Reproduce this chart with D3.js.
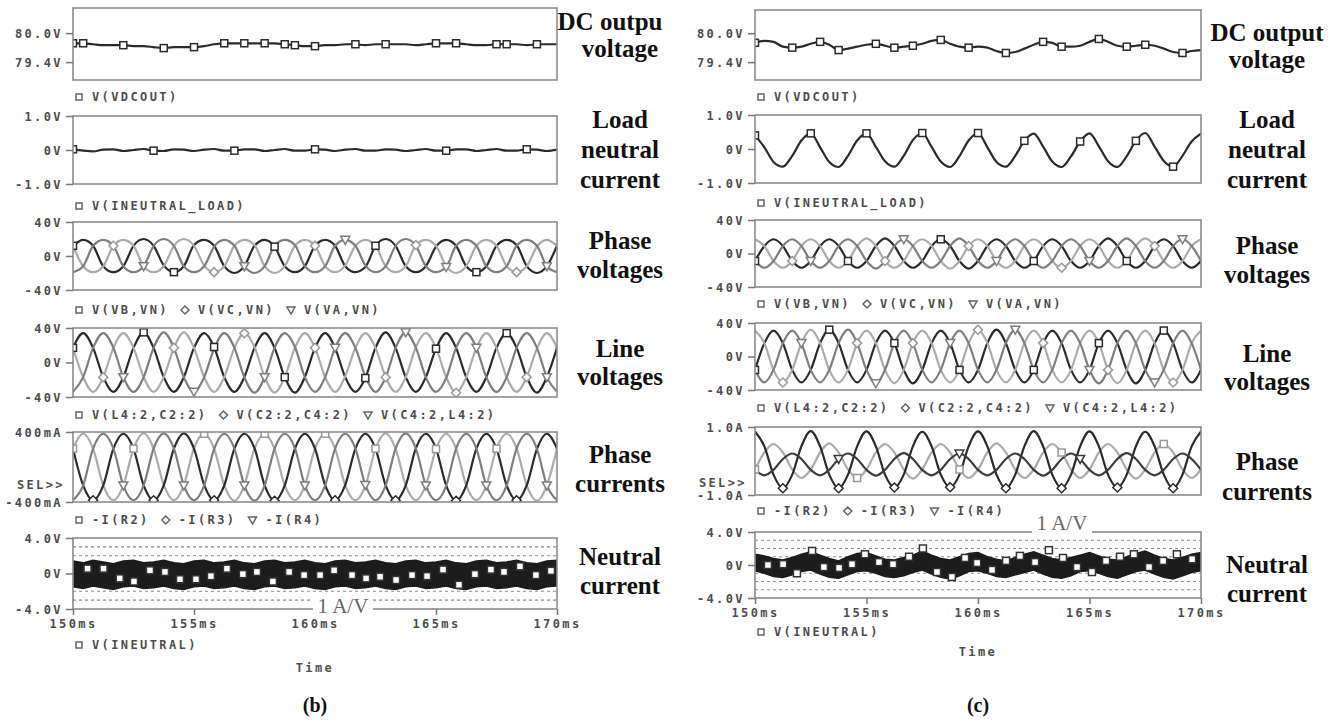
<!DOCTYPE html>
<html>
<head>
<meta charset="utf-8">
<script src="https://cdn.jsdelivr.net/npm/d3@7"></script>
<style>
body { margin: 0; background: #fff; }
svg { display: block; }
.mono { font-family: "DejaVu Sans Mono", monospace; font-weight: bold; font-size: 12px; fill: #4d4d4d; letter-spacing: 2.4px; }
</style>
</head>
<body>
<svg id="chart" width="1339" height="722"></svg>
<script>
// sample instants (ms), shared by every trace
const T = [150.00,150.42,150.83,151.25,151.67,152.08,152.50,152.92,153.33,153.75,154.17,154.58,
  155.00,155.42,155.83,156.25,156.67,157.08,157.50,157.92,158.33,158.75,159.17,159.58,
  160.00,160.42,160.83,161.25,161.67,162.08,162.50,162.92,163.33,163.75,164.17,164.58,
  165.00,165.42,165.83,166.25,166.67,167.08,167.50,167.92,168.33,168.75,169.17,169.58,170.00];
const timeTicks = [150, 155, 160, 165, 170];

// ---------- (b) ----------
const dcB = [79.79,79.79,79.77,79.75,79.75,79.75, 79.73,79.73,79.71,79.69,79.71,79.71, 79.71,79.73,79.77,79.79,79.79,79.79,
  79.79,79.79,79.79,79.77,79.75,79.73, 79.73,79.75,79.75,79.77,79.77,79.75, 79.77,79.77,79.77,79.77,79.75,79.77,
  79.79,79.79,79.79,79.77,79.75,79.75, 79.77,79.77,79.77,79.75,79.77,79.77, 79.77];
const loadB = [0.02,-0.02,-0.04,0.01,0.02,-0.03, 0.00,0.03,-0.02,-0.03,0.02,0.01, -0.03,0.01,0.03,-0.02,-0.02,0.02,
  0.02,-0.03,0.00,0.03,-0.02,-0.02, 0.02,0.01,-0.03,0.01,0.03,-0.02, -0.02,0.02,0.01,-0.03,0.00,0.03,
  -0.02,-0.02,0.02,0.02,-0.03,0.00, 0.03,-0.02,-0.02,0.02,0.01,-0.03, 0.01];
const vbB = [12,19,12,-12,-19,-12, 12,20,12,-11,-19,-12, 13,19,12,-12,-20,-12, 12,19,11,-12,-19,-12,
  12,19,12,-12,-19,-13, 12,20,12,-12,-19,-12, 11,19,12,-12,-19,-12, 12,19,13,-12,-20,-12, 12];
const vcB = [12,-12,-19,-12,12,19, 12,-12,-19,-12,12,20, 12,-11,-19,-12,12,19, 13,-12,-20,-12,12,19,
  12,-12,-19,-11,12,19, 12,-12,-19,-12,13,19, 12,-12,-20,-12,12,19, 12,-12,-19,-12,11,19, 12];
const vaB = [-19,-12,12,19,12,-12, -19,-12,12,20,12,-12, -19,-12,11,19,12,-12, -20,-12,12,19,13,-12,
  -19,-12,12,19,12,-11, -19,-12,12,20,12,-12, -19,-13,12,19,12,-12, -19,-12,12,19,12,-12, -19];
const l42B = [17,34,17,-17,-34,-17, 17,35,17,-17,-34,-17, 17,34,18,-17,-34,-17, 17,34,17,-17,-35,-17,
  17,34,17,-17,-34,-18, 17,35,17,-17,-34,-17, 16,34,17,-17,-34,-17, 17,34,17,-17,-35,-17, 17];
const c24B = [17,-17,-34,-17,17,34, 17,-17,-34,-17,17,35, 17,-17,-34,-17,17,34, 18,-17,-35,-17,17,34,
  17,-17,-34,-16,17,34, 17,-17,-34,-17,18,34, 17,-17,-35,-17,17,34, 17,-17,-34,-17,16,34, 17];
const c4lB = [-34,-17,17,34,17,-17, -34,-17,17,35,17,-17, -34,-17,16,34,17,-17, -35,-17,17,34,18,-17,
  -34,-17,17,34,17,-16, -34,-17,17,35,17,-17, -34,-18,17,34,17,-17, -34,-17,17,34,17,-17, -34];
const ir2B = [210,380,210,-210,-380,-210, 210,385,210,-205,-380,-210, 215,380,210,-210,-385,-210, 210,380,205,-210,-380,-210,
  210,380,210,-210,-380,-215, 210,385,210,-210,-380,-210, 205,380,210,-210,-380,-210, 210,380,215,-210,-385,-210, 210];
const ir3B = [210,-210,-380,-210,210,380, 210,-210,-380,-210,210,385, 210,-205,-380,-210,210,380, 215,-210,-385,-210,210,380,
  210,-210,-380,-205,210,380, 210,-210,-380,-210,215,380, 210,-210,-385,-210,210,380, 210,-210,-380,-210,205,380, 210];
const ir4B = [-380,-210,210,380,210,-210, -380,-210,210,385,210,-210, -380,-210,205,380,210,-210, -385,-210,210,380,215,-210,
  -380,-210,210,380,210,-205, -380,-210,210,385,210,-210, -380,-215,210,380,210,-210, -380,-210,210,380,210,-210, -380];
const nHiB = [1.4,1.2,1.5,1.3,1.1,1.4, 1.5,1.2,1.3,1.5,1.2,1.1, 1.4,1.5,1.2,1.3,1.5,1.2, 1.1,1.4,1.5,1.2,1.3,1.5,
  1.2,1.1,1.4,1.5,1.2,1.3, 1.5,1.2,1.1,1.4,1.5,1.2, 1.3,1.5,1.2,1.1,1.4,1.5, 1.2,1.3,1.5,1.2,1.1,1.4, 1.5];
const nLoB = [-1.5,-1.7,-1.4,-1.6,-1.8,-1.5, -1.4,-1.7,-1.6,-1.4,-1.7,-1.8, -1.5,-1.4,-1.7,-1.6,-1.4,-1.7,
  -1.8,-1.5,-1.4,-1.7,-1.6,-1.4, -1.7,-1.8,-1.5,-1.4,-1.7,-1.6, -1.4,-1.7,-1.8,-1.5,-1.4,-1.7,
  -1.6,-1.4,-1.7,-1.8,-1.5,-1.4, -1.7,-1.6,-1.4,-1.7,-1.8,-1.5, -1.4];
const nMarkTB = [150.60,151.26,151.93,152.52,153.18,153.80,154.42,155.08,155.70,156.36,157.02,157.60,158.26,158.93,159.55,
  160.21,160.79,161.53,162.11,162.69,163.35,164.01,164.63,165.29,165.95,166.61,167.27,167.81,168.47,169.13,169.75];
const nMarkVB = [0.55,0.55,-0.55,-0.9,0.36,0.18,-0.65,-0.65,-0.3,0.55,-0.07,0.18,-0.9,0.18,-0.18,
  -0.18,0.36,-0.18,-0.55,-0.36,-0.73,-0.18,-0.3,0.44,-1.27,-0.07,0.44,0.18,0.8,-0.18,0.3];

// ---------- (c) ----------
const dcC = [79.80,79.84,79.82,79.72,79.70,79.72, 79.78,79.82,79.76,79.65,79.68,79.72, 79.76,79.78,79.74,79.70,79.72,79.74,
  79.78,79.84,79.86,79.78,79.72,79.70, 79.72,79.70,79.63,79.59,79.61,79.68, 79.76,79.82,79.80,79.72,79.72,79.74,
  79.82,79.88,79.82,79.74,79.72,79.74, 79.76,79.74,79.68,79.61,79.59,79.63, 79.65];
const loadC = [0.40,0.05,-0.38,-0.52,-0.20,0.25, 0.46,0.05,-0.38,-0.53,-0.20,0.25, 0.46,0.06,-0.36,-0.52,-0.20,0.26,
  0.47,0.06,-0.37,-0.53,-0.21,0.25, 0.47,0.05,-0.38,-0.52,-0.20,0.24, 0.45,0.07,-0.37,-0.53,-0.22,0.22,
  0.46,0.08,-0.36,-0.53,-0.21,0.24, 0.47,0.07,-0.35,-0.52,-0.20,0.22, 0.45];
const vbC = [-9,9,17,9,-9,-17, -9,9,17,9,-9,-17, -9,9,18,9,-9,-17, -9,9,17,9,-9,-18,
  -9,9,17,9,-9,-17, -9,9,17,9,-9,-17, -9,9,18,9,-9,-17, -9,9,17,9,-9,-17, -9];
const vcC = [17,9,-9,-17,-9,9, 17,9,-9,-17,-9,9, 18,9,-9,-17,-9,9, 17,9,-9,-18,-9,9,
  17,9,-9,-17,-9,9, 17,9,-9,-17,-9,9, 17,9,-9,-17,-9,9, 18,9,-9,-17,-9,9, 17];
const vaC = [-9,-17,-9,9,17,9, -9,-17,-9,9,17,9, -9,-18,-9,9,17,9, -9,-17,-9,9,18,9,
  -9,-17,-9,9,17,9, -9,-17,-9,9,17,9, -9,-17,-9,9,18,9, -9,-17,-9,9,17,9, -9];
const l42C = [-16,16,31,16,-16,-31, -16,16,32,16,-16,-31, -16,16,31,16,-16,-32, -16,16,31,16,-16,-31,
  -16,16,32,16,-16,-31, -16,16,31,16,-16,-31, -16,16,31,16,-16,-32, -16,16,31,16,-16,-31, -16];
const c24C = [31,16,-16,-31,-16,16, 32,16,-16,-31,-16,16, 31,16,-16,-32,-16,16, 31,16,-16,-31,-16,16,
  32,16,-16,-31,-16,16, 31,16,-16,-31,-16,16, 31,16,-16,-32,-16,16, 31,16,-16,-31,-16,16, 31];
const c4lC = [-16,-31,-16,16,31,16, -16,-31,-16,16,32,16, -16,-32,-16,16,31,16, -16,-31,-16,16,31,16,
  -16,-31,-16,16,32,16, -16,-31,-16,16,31,16, -16,-32,-16,16,31,16, -16,-31,-16,16,31,16, -16];
const ir2C = [-0.25,0.25,0.50,0.25,-0.25,-0.50, -0.25,0.25,0.52,0.25,-0.25,-0.50, -0.25,0.25,0.50,0.25,-0.25,-0.52,
  -0.25,0.25,0.50,0.25,-0.25,-0.50, -0.25,0.25,0.52,0.25,-0.25,-0.50, -0.25,0.25,0.50,0.25,-0.25,-0.50,
  -0.25,0.25,0.50,0.25,-0.25,-0.52, -0.25,0.25,0.50,0.25,-0.25,-0.50, -0.25];
const ir3C = [0.87,0.43,-0.40,-0.80,-0.40,0.43, 0.88,0.43,-0.40,-0.80,-0.40,0.43, 0.87,0.43,-0.40,-0.78,-0.40,0.43,
  0.86,0.43,-0.40,-0.77,-0.40,0.43, 0.87,0.43,-0.40,-0.80,-0.40,0.43, 0.88,0.43,-0.40,-0.80,-0.40,0.43,
  0.87,0.43,-0.40,-0.78,-0.40,0.43, 0.86,0.43,-0.40,-0.80,-0.40,0.43, 0.87];
const ir4C = [-0.26,-0.42,-0.26,0.06,0.22,0.06, -0.26,-0.42,-0.26,0.06,0.22,0.06, -0.26,-0.43,-0.26,0.06,0.23,0.06,
  -0.26,-0.42,-0.26,0.06,0.22,0.06, -0.26,-0.42,-0.26,0.06,0.22,0.06, -0.26,-0.43,-0.26,0.06,0.22,0.06,
  -0.26,-0.42,-0.26,0.06,0.23,0.06, -0.26,-0.42,-0.26,0.06,0.22,0.06, -0.26];
const nHiC = [1.3,1.1,0.8,0.6,0.9,1.3, 1.6,1.2,0.8,0.5,1.0,1.4, 1.5,1.1,0.7,0.6,0.9,1.2, 1.7,1.2,0.8,0.6,1.0,1.4,
  1.5,1.0,0.7,0.5,0.9,1.3, 1.6,1.2,0.8,0.6,0.9,1.2, 1.5,1.1,0.7,0.6,1.0,1.4, 1.7,1.2,0.8,0.6,0.9,1.3, 1.5];
const nLoC = [-0.7,-1.0,-1.4,-1.5,-1.2,-0.8, -0.6,-1.1,-1.5,-1.6,-1.2,-0.8, -0.7,-1.0,-1.4,-1.5,-1.3,-0.9,
  -0.6,-1.1,-1.5,-1.7,-1.3,-0.8, -0.7,-1.0,-1.4,-1.5,-1.2,-0.9, -0.6,-1.1,-1.5,-1.6,-1.3,-0.8,
  -0.7,-1.0,-1.4,-1.6,-1.2,-0.8, -0.6,-1.1,-1.5,-1.7,-1.3,-0.9, -0.7];
const nMarkTC = [150.58,151.26,151.88,152.56,153.09,153.77,154.35,154.93,155.56,156.19,156.91,157.53,158.16,158.83,159.42,
  159.96,160.63,161.26,161.88,162.56,163.18,163.81,164.44,165.11,165.74,166.37,166.99,167.67,168.30,168.92,169.60];
const nMarkVC = [0.0,0.1,-1.0,1.7,-0.25,-0.35,0.1,1.3,0.35,0.1,1.0,2.0,-0.85,-1.45,0.85,
  0.25,-0.6,0.5,1.1,0.35,1.8,0.85,-0.25,-0.85,0.5,1.0,1.3,-0.25,0.5,1.3,0.7];

// axis ranges and tick labels
const domB = [[79.03, 80.52], [-1, 1], [-40, 40], [-40, 40], [-400, 400], [-4, 4]];
const domC = [[79.03, 80.48], [-1, 1], [-40, 40], [-40, 40], [-1, 1], [-4, 4]];
const tickValB = [[80.0, 79.4], [1, 0, -1], [40, 0, -40], [40, 0, -40], [400, -400], [4, 0, -4]];
const tickLabB = [['80.0V', '79.4V'], ['1.0V', '0V', '-1.0V'], ['40V', '0V', '-40V'], ['40V', '0V', '-40V'], ['400mA', '-400mA'], ['4.0V', '0V', '-4.0V']];
const tickValC = [[80.0, 79.4], [1, 0, -1], [40, 0, -40], [40, 0, -40], [1, -1], [4, 0, -4]];
const tickLabC = [['80.0V', '79.4V'], ['1.0V', '0V', '-1.0V'], ['40V', '0V', '-40V'], ['40V', '0V', '-40V'], ['1.0A', '-1.0A'], ['4.0V', '0V', '-4.0V']];
const neutralGrid = [3, 2, 1, -1, -2, -3];

// legends and titles
const legends = [['V(VDCOUT)'], ['V(INEUTRAL_LOAD)'], ['V(VB,VN)', 'V(VC,VN)', 'V(VA,VN)'],
  ['V(L4:2,C2:2)', 'V(C2:2,C4:2)', 'V(C4:2,L4:2)'], ['-I(R2)', '-I(R3)', '-I(R4)'], ['V(INEUTRAL)']];
const titlesB = [['DC outpu', 'voltage'], ['Load', 'neutral', 'current'], ['Phase', 'voltages'], ['Line', 'voltages'], ['Phase', 'currents'], ['Neutral', 'current']];
const titlesC = [['DC output', 'voltage'], ['Load', 'neutral', 'current'], ['Phase', 'voltages'], ['Line', 'voltages'], ['Phase', 'currents'], ['Neutral', 'current']];

const DARK = '#2b2b2b', MID = '#7e7e7e', LIGHT = '#ababab';
const MARKS = ['sq', 'di', 'tr'];
const SERIF = '"Liberation Serif", "Times New Roman", Times, serif';

const svg = d3.select('#chart');
let clipN = 0;

function marker(g, type, cx, cy, color, r) {
    let el;
    if (type === 'sq') {
        el = g.append('rect').attr('x', cx - r).attr('y', cy - r).attr('width', 2 * r).attr('height', 2 * r);
    } else if (type === 'di') {
        el = g.append('path').attr('d', `M${cx},${cy - r - 1}L${cx + r + 1},${cy}L${cx},${cy + r + 1}L${cx - r - 1},${cy}Z`);
    } else {
        el = g.append('path').attr('d', `M${cx - r - 1},${cy - r}L${cx + r + 1},${cy - r}L${cx},${cy + r + 1}Z`);
    }
    el.attr('fill', '#fff').attr('stroke', color).attr('stroke-width', 1.5);
}

function serifText(g, x, y, s, size, weight, color) {
    return g.append('text').attr('x', x).attr('y', y).attr('text-anchor', 'middle')
        .attr('font-family', SERIF).attr('font-weight', weight).attr('font-size', size)
        .attr('fill', color).text(s);
}

function drawPanel(side, p) {
    const x = side.x;
    const y = d3.scaleLinear().domain(p.domain).range([p.y1, p.y0]);
    const g = svg.append('g');
    const id = 'clip' + (clipN++);
    svg.append('clipPath').attr('id', id).append('rect')
        .attr('x', side.x0).attr('y', p.y0).attr('width', side.x1 - side.x0).attr('height', p.y1 - p.y0);
    const plot = g.append('g').attr('clip-path', `url(#${id})`);

    if (p.grid) {
        p.grid.forEach(v => {
            plot.append('line').attr('x1', side.x0).attr('x2', side.x1).attr('y1', y(v)).attr('y2', y(v))
                .attr('stroke', '#8a8a8a').attr('stroke-width', 1.2).attr('stroke-dasharray', '3,3');
        });
    }

    if (p.band) {
        const rows = T.map((t, i) => ({ t, lo: p.band.lo[i], hi: p.band.hi[i] }));
        plot.append('path').datum(rows)
            .attr('d', d3.area().x(d => x(d.t)).y0(d => y(d.lo)).y1(d => y(d.hi)))
            .attr('fill', '#1c1c1c').attr('stroke', '#1c1c1c').attr('stroke-width', 1.5);
        p.band.marks.t.forEach((t, i) => marker(plot, 'sq', x(t), y(p.band.marks.v[i]), '#333', 3.5));
    }

    const line = d3.line().x((d, i) => x(T[i])).y(d => y(d)).curve(d3.curveMonotoneX);
    (p.series || []).forEach(s => {
        plot.append('path').datum(s.values).attr('d', line)
            .attr('fill', 'none').attr('stroke', s.color).attr('stroke-width', 2.2);
    });
    (p.series || []).forEach((s, k) => {
        s.marks.forEach(i => marker(plot, MARKS[k], x(T[i]), y(s.values[i]), s.color === LIGHT ? '#999' : s.color, 3.5));
    });

    g.append('rect').attr('x', side.x0).attr('y', p.y0).attr('width', side.x1 - side.x0).attr('height', p.y1 - p.y0)
        .attr('fill', 'none').attr('stroke', '#8c8c8c').attr('stroke-width', 1.6);

    const ya = g.append('g').attr('transform', `translate(${side.x0},0)`)
        .call(d3.axisLeft(y).tickValues(p.ticks).tickSize(7).tickPadding(3)
            .tickFormat((d, i) => p.tickLabels[i]));
    ya.select('.domain').remove();
    ya.selectAll('.tick line').attr('stroke', '#777').attr('stroke-width', 1.5);
    ya.selectAll('.tick text').attr('class', 'mono').attr('dy', '0.36em');

    if (p.sel) {
        g.append('text').attr('class', 'mono').attr('x', side.x0 - 8).attr('y', p.sel)
            .attr('text-anchor', 'end').attr('dominant-baseline', 'central').text('SEL>>');
    }

    if (p.xAxis) {
        const xa = g.append('g').attr('transform', `translate(0,${p.y1})`)
            .call(d3.axisBottom(x).tickValues(timeTicks).tickSize(6).tickPadding(4).tickFormat(d => d + 'ms'));
        xa.select('.domain').remove();
        xa.selectAll('.tick line').attr('stroke', '#777').attr('stroke-width', 1.5);
        xa.selectAll('.tick text').attr('class', 'mono');
    }

    // legend
    let lx = side.x0 + 6;
    p.legend.forEach((lab, i) => {
        marker(g, MARKS[i], lx, p.legendY, '#666', 3);
        const t = g.append('text').attr('class', 'mono').attr('x', lx + 13).attr('y', p.legendY)
            .attr('dominant-baseline', 'central').text(lab);
        lx += 13 + t.node().getComputedTextLength() + 16;
    });

    // bold titles
    p.title.forEach((s, i) => serifText(g, p.titleX[i], p.titleY[i], s, 25, 700, '#111'));
}

function buildSide(cfg) {
    const x = d3.scaleLinear().domain([150, 170]).range([cfg.x0, cfg.x1]);
    const side = { x, x0: cfg.x0, x1: cfg.x1 };
    cfg.panels.forEach((p, i) => {
        p.domain = cfg.dom[i];
        p.ticks = cfg.tickVal[i];
        p.tickLabels = cfg.tickLab[i];
        p.legend = legends[i];
        p.title = cfg.titles[i];
        p.titleX = p.titleX || p.title.map(() => cfg.titleX);
        drawPanel(side, p);
    });
    svg.append('text').attr('class', 'mono').attr('x', x(160)).attr('y', cfg.timeY)
        .attr('text-anchor', 'middle').attr('dominant-baseline', 'central').text('Time');
    serifText(svg, x(160), 712, cfg.tag, 20, 700, '#111');
    const av = svg.append('g');
    av.append('rect').attr('x', cfg.av[0] - 30).attr('y', cfg.av[1] - 17).attr('width', 60).attr('height', 22).attr('fill', '#fff');
    serifText(av, cfg.av[0], cfg.av[1], '1 A/V', 21, 400, '#666');
}

buildSide({
    x0: 73, x1: 557, titleX: 620, timeY: 668, tag: '(b)', av: [343, 613],
    dom: domB, tickVal: tickValB, tickLab: tickLabB, titles: titlesB,
    panels: [
        { y0: 8, y1: 80, legendY: 97, titleY: [30, 57], titleX: [610, 620],
          series: [{ values: dcB, color: DARK, marks: [0, 1, 5, 9, 12, 15, 17, 19, 21, 22, 24, 28, 31, 36, 38, 42, 43, 46] }] },
        { y0: 116, y1: 184, legendY: 206, titleY: [128, 158, 188],
          series: [{ values: loadB, color: DARK, marks: [0, 8, 16, 24, 37, 45] }] },
        { y0: 222, y1: 290, legendY: 310, titleY: [249, 278],
          series: [{ values: vbB, color: DARK, marks: [0, 10, 20, 30, 40] },
                   { values: vcB, color: LIGHT, marks: [4, 14, 24, 34, 44] },
                   { values: vaB, color: MID, marks: [7, 17, 27, 37, 47] }] },
        { y0: 328, y1: 397, legendY: 415, titleY: [357, 385],
          series: [{ values: l42B, color: DARK, marks: [0, 7, 14, 21, 29, 36, 43] },
                   { values: c24B, color: LIGHT, marks: [3, 10, 17, 24, 31, 38, 45] },
                   { values: c4lB, color: MID, marks: [5, 12, 19, 26, 33, 40, 47] }] },
        { y0: 432, y1: 502, legendY: 520, titleY: [463, 492], sel: 485,
          series: [{ values: ir2B, color: LIGHT, marks: [0, 6, 13, 19, 25, 30, 36, 42] },
                   { values: ir3B, color: DARK, marks: [2, 8, 14, 20, 26, 32, 38, 44] },
                   { values: ir4B, color: MID, marks: [5, 11, 17, 23, 29, 35, 41, 47] }] },
        { y0: 538, y1: 609, legendY: 645, titleY: [565, 594], xAxis: true, grid: neutralGrid,
          band: { hi: nHiB, lo: nLoB, marks: { t: nMarkTB, v: nMarkVB } } }
    ]
});

buildSide({
    x0: 755, x1: 1201, titleX: 1267, timeY: 652, tag: '(c)', av: [1062, 530],
    dom: domC, tickVal: tickValC, tickLab: tickLabC, titles: titlesC,
    panels: [
        { y0: 10, y1: 80, legendY: 97, titleY: [41, 68],
          series: [{ values: dcC, color: DARK, marks: [0, 4, 7, 9, 13, 15, 17, 20, 23, 27, 31, 33, 37, 40, 42, 46] }] },
        { y0: 115, y1: 183, legendY: 203, titleY: [128, 158, 188],
          series: [{ values: loadC, color: DARK, marks: [0, 6, 12, 18, 24, 29, 35, 41, 45] }] },
        { y0: 220, y1: 287, legendY: 304, titleY: [254, 283],
          series: [{ values: vbC, color: DARK, marks: [0, 10, 20, 30, 40] },
                   { values: vcC, color: LIGHT, marks: [4, 14, 23, 33, 43] },
                   { values: vaC, color: MID, marks: [6, 16, 26, 36, 46] }] },
        { y0: 323, y1: 390, legendY: 408, titleY: [362, 390],
          series: [{ values: l42C, color: DARK, marks: [0, 8, 15, 22, 30, 37, 44] },
                   { values: c24C, color: LIGHT, marks: [3, 11, 17, 24, 31, 38, 45] },
                   { values: c4lC, color: MID, marks: [5, 13, 21, 28, 36, 43] }] },
        { y0: 427, y1: 495, legendY: 511, titleY: [470, 500], sel: 483,
          series: [{ values: ir2C, color: LIGHT, marks: [0, 11, 22, 33, 44] },
                   { values: ir3C, color: DARK, marks: [3, 9, 15, 21, 27, 33, 39, 45] },
                   { values: ir4C, color: '#3c3c3c', marks: [9, 22, 35] }] },
        { y0: 532, y1: 598, legendY: 632, titleY: [573, 602], xAxis: true, grid: neutralGrid,
          band: { hi: nHiC, lo: nLoC, marks: { t: nMarkTC, v: nMarkVC } } }
    ]
});
</script>
</body>
</html>
